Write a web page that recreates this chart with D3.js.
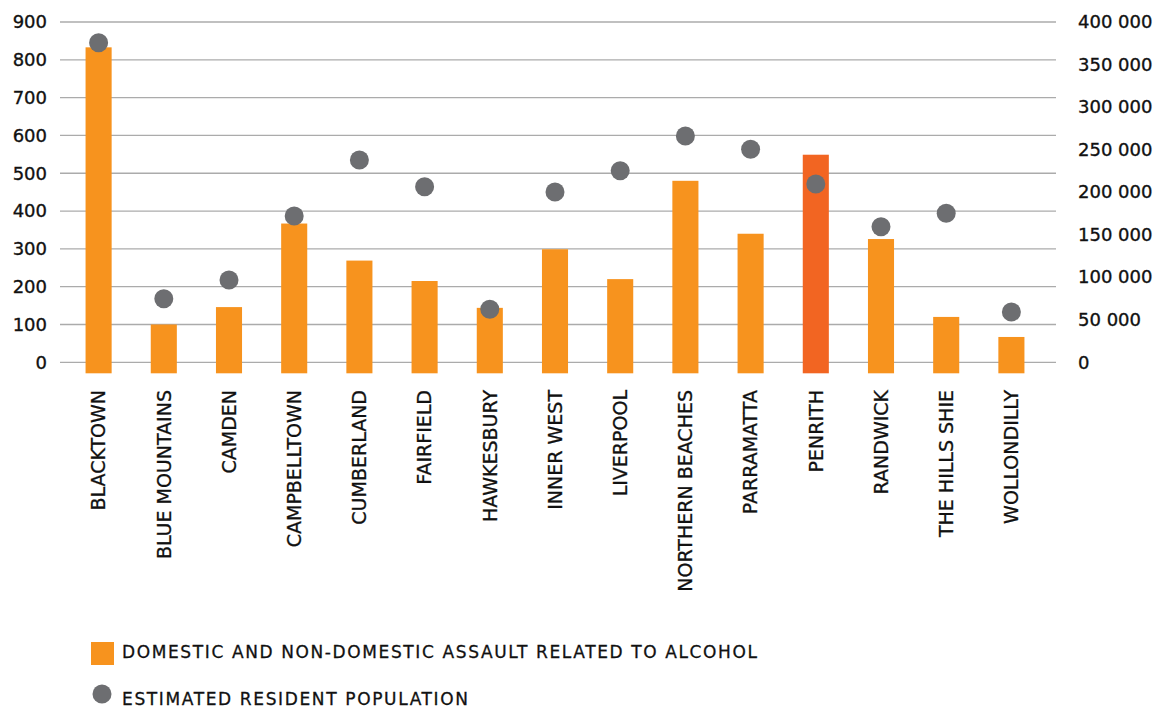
<!DOCTYPE html>
<html>
<head>
<meta charset="utf-8">
<script src="https://cdn.jsdelivr.net/npm/d3@7"></script>
<style>
    body { margin: 0; background: #fff; }
    svg { display: block; }
    .tick-label { font-family: "DejaVu Sans", sans-serif; font-size: 18px; fill: #111; stroke: #111; stroke-width: 0.35px; }
    .cat-label { font-family: "DejaVu Sans", sans-serif; font-size: 19px; fill: #111; stroke: #111; stroke-width: 0.3px; }
    .legend-label { font-family: "DejaVu Sans", sans-serif; font-size: 17px; fill: #111; stroke: #111; stroke-width: 0.3px; }
</style>
</head>
<body>
<div id="chart"></div>
<script>
// Chart data
const categories = ['BLACKTOWN', 'BLUE MOUNTAINS', 'CAMDEN', 'CAMPBELLTOWN', 'CUMBERLAND', 'FAIRFIELD',
    'HAWKESBURY', 'INNER WEST', 'LIVERPOOL', 'NORTHERN BEACHES', 'PARRAMATTA', 'PENRITH',
    'RANDWICK', 'THE HILLS SHIE', 'WOLLONDILLY'];
const assaults = [833, 100, 146, 367, 269, 215, 144, 299, 220, 480, 340, 549, 326, 120, 67];
const population = [375700, 74800, 96700, 172000, 237800, 206400, 62300, 200200, 225200,
    266000, 250400, 209600, 159400, 175100, 59100];
const highlighted = ['PENRITH'];
const leftTicks = [0, 100, 200, 300, 400, 500, 600, 700, 800, 900];
const rightTicks = [0, 50000, 100000, 150000, 200000, 250000, 300000, 350000, 400000];
const legendLabels = ['DOMESTIC AND NON-DOMESTIC ASSAULT RELATED TO ALCOHOL', 'ESTIMATED RESIDENT POPULATION'];

const width = 1168;
const height = 709;

const colors = {
    bar: '#f7931e',
    barHighlight: '#f26522',
    dot: '#6d6e71',
    grid: '#ababab'
};

const svg = d3.select('#chart')
    .append('svg')
    .attr('width', width)
    .attr('height', height);

// Scales
const x = d3.scaleBand()
    .domain(categories)
    .range([66, 1044])
    .paddingInner(0.6)
    .paddingOuter(0.3);

const yLeft = d3.scaleLinear().domain([0, 900]).range([362.3, 22]);
const yRight = d3.scaleLinear().domain([0, 400000]).range([362.3, 22]);

const gridLeft = 60;
const gridRight = 1056;
const barOverhang = 11; // bars run a little past the zero line

// Gridlines
svg.append('g')
    .attr('class', 'grid')
    .selectAll('line')
    .data(leftTicks)
    .join('line')
    .attr('x1', gridLeft)
    .attr('x2', gridRight)
    .attr('y1', d => yLeft(d))
    .attr('y2', d => yLeft(d))
    .attr('stroke', colors.grid)
    .attr('stroke-width', 1.3);

// Left axis labels
const leftAxis = d3.axisLeft(yLeft).tickValues(leftTicks).tickSize(0).tickPadding(0);
svg.append('g')
    .attr('transform', 'translate(47,0)')
    .call(leftAxis)
    .call(g => g.select('.domain').remove())
    .call(g => g.selectAll('text').attr('class', 'tick-label').attr('font-family', null).attr('font-size', null));

// Right axis labels (space as thousands separator)
const fmtSpace = d => d3.format(',')(d).replace(/,/g, ' ');
const rightAxis = d3.axisRight(yRight).tickValues(rightTicks).tickSize(0).tickPadding(0).tickFormat(fmtSpace);
svg.append('g')
    .attr('transform', 'translate(1078,0)')
    .call(rightAxis)
    .call(g => g.select('.domain').remove())
    .call(g => g.selectAll('text').attr('class', 'tick-label').attr('font-family', null).attr('font-size', null));

// Bars
svg.append('g')
    .selectAll('rect')
    .data(categories)
    .join('rect')
    .attr('x', d => x(d))
    .attr('width', x.bandwidth())
    .attr('y', (d, i) => yLeft(assaults[i]))
    .attr('height', (d, i) => yLeft(0) + barOverhang - yLeft(assaults[i]))
    .attr('fill', d => highlighted.includes(d) ? colors.barHighlight : colors.bar);

// Population dots
svg.append('g')
    .selectAll('circle')
    .data(categories)
    .join('circle')
    .attr('cx', d => x(d) + x.bandwidth() / 2)
    .attr('cy', (d, i) => yRight(population[i]))
    .attr('r', 9.5)
    .attr('fill', colors.dot);

// Category labels (rotated)
svg.append('g')
    .selectAll('text')
    .data(categories)
    .join('text')
    .attr('class', 'cat-label')
    .attr('transform', d => `translate(${x(d) + x.bandwidth() / 2},390) rotate(-90)`)
    .attr('text-anchor', 'end')
    .attr('dy', '0.36em')
    .text(d => d);

// Legend
const legend = svg.append('g').attr('class', 'legend');

legend.append('rect')
    .attr('x', 91)
    .attr('y', 642)
    .attr('width', 23)
    .attr('height', 23)
    .attr('fill', colors.bar);

legend.append('text')
    .attr('class', 'legend-label')
    .attr('x', 122)
    .attr('y', 657.5)
    .attr('textLength', 635)
    .attr('lengthAdjust', 'spacing')
    .text(legendLabels[0]);

legend.append('circle')
    .attr('cx', 102)
    .attr('cy', 694)
    .attr('r', 9.5)
    .attr('fill', colors.dot);

legend.append('text')
    .attr('class', 'legend-label')
    .attr('x', 122)
    .attr('y', 704.5)
    .attr('textLength', 346)
    .attr('lengthAdjust', 'spacing')
    .text(legendLabels[1]);
</script>
</body>
</html>
